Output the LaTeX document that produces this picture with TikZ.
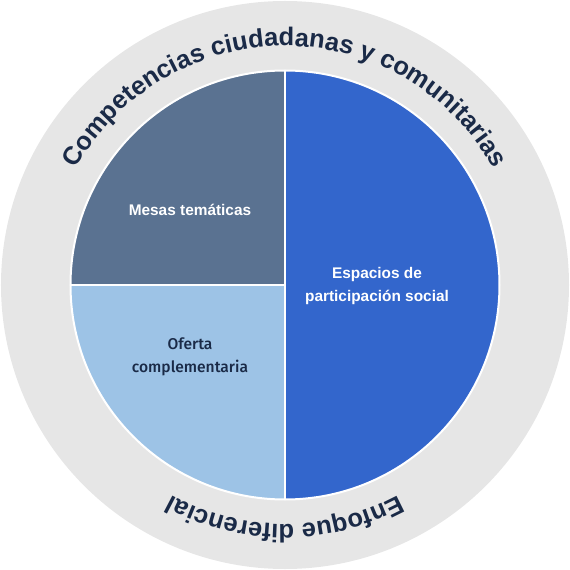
\documentclass[tikz,border=0pt]{standalone}
\usepackage{fontspec}
\setmainfont{Liberation Sans}
\newfontfamily\mediumfont{Fira Sans Medium}
\usetikzlibrary{decorations.text}
\definecolor{ringgrey}{HTML}{E6E6E6}
\definecolor{slate}{HTML}{5A7291}
\definecolor{strongblue}{HTML}{3366CC}
\definecolor{lightblue}{HTML}{9DC3E6}
\definecolor{navy}{HTML}{1A2A47}
\tikzset{
  whitelabel/.style={text=white, font=\bfseries\fontsize{15.4}{23.5}\selectfont, align=center},
  darklabel/.style={text=navy, font=\mediumfont\fontsize{15.6}{23}\selectfont, align=center},
  divider/.style={draw=white, line width=2pt}
}
\begin{document}
\begin{tikzpicture}[x=1pt,y=1pt]
\useasboundingbox (-285,-285) rectangle (285,285);
\def\R{284}
\def\r{214.5}
\fill[ringgrey] (0,0) circle (\R);
\fill[strongblue] (0,-\r) arc (-90:90:\r) -- cycle;
\fill[slate] (0,0) -- (0,\r) arc (90:180:\r) -- cycle;
\fill[lightblue] (0,0) -- (-\r,0) arc (180:270:\r) -- cycle;
\draw[divider] (0,0) circle (\r);
\draw[divider] (0,\r) -- (0,-\r);
\draw[divider] (-\r,0) -- (0,0);
\node[whitelabel] (mesas) at (-95,75) {Mesas temáticas};
\node[whitelabel] (espacios) at (92,-1) {Espacios de\\participación social};
\node[darklabel] (oferta) at (-95,-72) {Oferta\\complementaria};
\path[decorate, decoration={text along path, text align=center,
  text={|\bfseries\color{navy}\fontsize{25.5}{30}\selectfont|Competencias ciudadanas y comunitarias}}]
  (160:239) arc (160:20:239);
\path[decorate, decoration={text along path, text align=center,
  text={|\bfseries\color{navy}\fontsize{25.5}{30}\selectfont|Enfoque diferencial}}]
  (-20:239) arc (-20:-160:239);
\end{tikzpicture}
\end{document}
